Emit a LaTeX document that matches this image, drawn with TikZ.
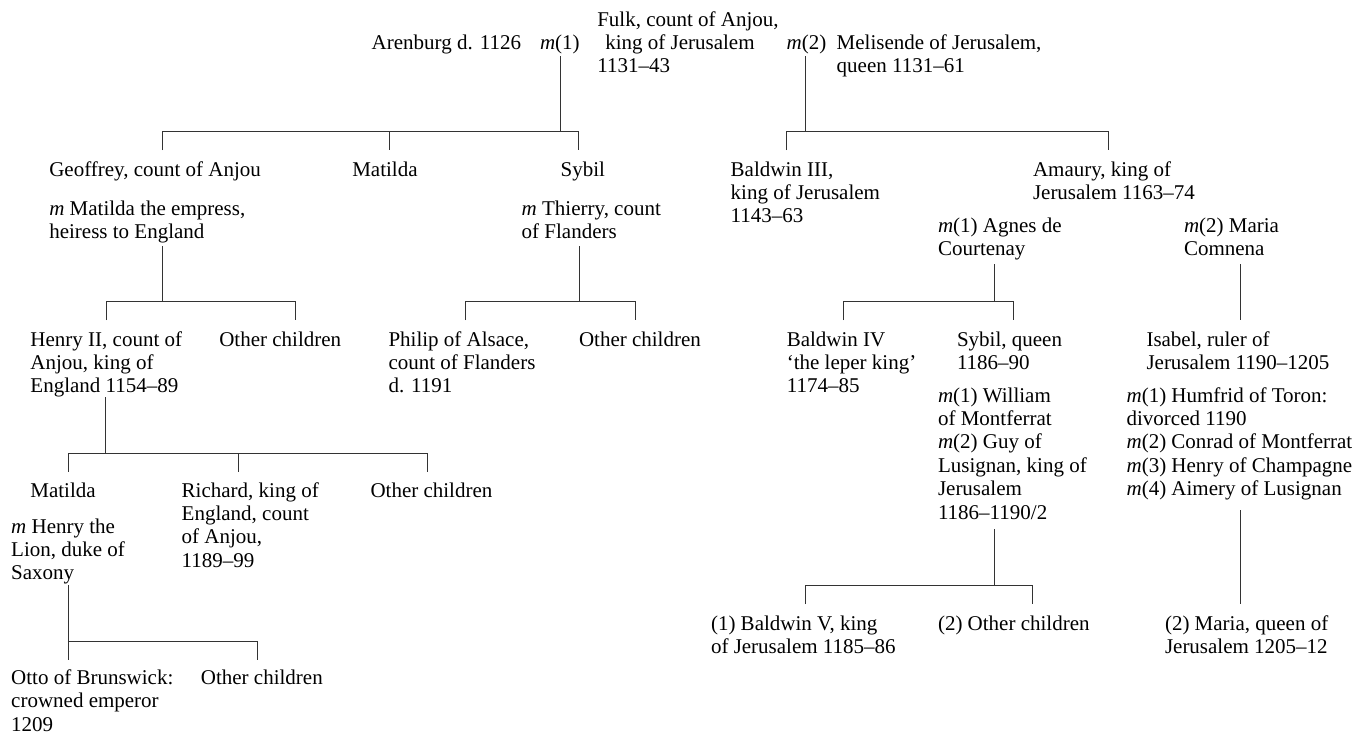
\documentclass[tikz,border=0pt]{standalone}
\usepackage{fontspec}
\setmainfont{Liberation Serif}
\newcommand\famfont{\fontsize{21}{23.4}\selectfont}
\newcommand\nl{\cr}
\newcommand\lns[1]{\vtop{\halign{##\hfil\cr#1\crcr}}}
\newcommand\mm{\textit{m}}
\tikzset{
  person/.style={anchor=base west, inner sep=0pt, outer sep=0pt, font=\famfont, text=black},
  line/.style={draw=black!80, line width=0.8pt},
}
\begin{document}
\begin{tikzpicture}[x=1pt,y=-1pt]
\fill[white] (0,0) rectangle (1358,734);
\useasboundingbox (0,0) rectangle (1358,734);

% generation 0
\node[person] (arenburg) at (371.7,49) {Arenburg d. 1126};
\node[person] (m1) at (540,49) {\mm(1)};
\node[person] (fulk) at (597.3,26) {\lns{Fulk, count of Anjou,\nl\hspace*{8pt}king of Jerusalem\nl 1131–43}};
\node[person] (m2) at (786.7,49) {\mm(2)};
\node[person] (melisende) at (836.7,49) {\lns{Melisende of Jerusalem,\nl queen 1131–61}};

% generation 1
\node[person] (geoffrey) at (49.3,176) {Geoffrey, count of Anjou};
\node[person] (matildaA) at (352.3,176) {Matilda};
\node[person] (sybilA) at (560.7,176) {Sybil};
\node[person] (baldwinIII) at (730.7,176) {\lns{Baldwin III,\nl king of Jerusalem\nl 1143–63}};
\node[person] (amaury) at (1033,176) {\lns{Amaury, king of\nl Jerusalem 1163–74}};

\node[person] (mgeoff) at (49.3,215) {\lns{\mm\ Matilda the empress,\nl heiress to England}};
\node[person] (mthierry) at (521.7,215) {\lns{\mm\ Thierry, count\nl of Flanders}};
\node[person] (magnes) at (938,232) {\lns{\mm(1) Agnes de\nl Courtenay}};
\node[person] (mmaria) at (1184,232) {\lns{\mm(2) Maria\nl Comnena}};

% generation 2
\node[person] (henryII) at (30.5,346) {\lns{Henry II, count of\nl Anjou, king of\nl England 1154–89}};
\node[person] (otherA) at (219.3,346) {Other children};
\node[person] (philip) at (388.5,346) {\lns{Philip of Alsace,\nl count of Flanders\nl d. 1191}};
\node[person] (otherB) at (579,346) {Other children};
\node[person] (baldwinIV) at (786.8,346) {\lns{Baldwin IV\nl ‘the leper king’\nl 1174–85}};
\node[person] (sybilQ) at (957,346) {\lns{Sybil, queen\nl 1186–90}};
\node[person] (isabel) at (1146.5,346) {\lns{Isabel, ruler of\nl Jerusalem 1190–1205}};

\node[person] (msybil) at (938,402) {\lns{\mm(1) William\nl of Montferrat\nl \mm(2) Guy of\nl Lusignan, king of\nl Jerusalem\nl 1186–1190/2}};
\node[person] (misabel) at (1126.6,402) {\lns{\mm(1) Humfrid of Toron:\nl divorced 1190\nl \mm(2) Conrad of Montferrat\nl \mm(3) Henry of Champagne\nl \mm(4) Aimery of Lusignan}};

% generation 3
\node[person] (matildaB) at (30.4,497) {Matilda};
\node[person] (richard) at (181.7,497) {\lns{Richard, king of\nl England, count\nl of Anjou,\nl 1189–99}};
\node[person] (otherC) at (370.5,497) {Other children};
\node[person] (mhenry) at (11.2,533) {\lns{\mm\ Henry the\nl Lion, duke of\nl Saxony}};

\node[person] (baldwinV) at (711,630) {\lns{(1) Baldwin V, king\nl of Jerusalem 1185–86}};
\node[person] (otherE) at (938,630) {(2) Other children};
\node[person] (mariaQ) at (1165,630) {\lns{(2) Maria, queen of\nl Jerusalem 1205–12}};

% generation 4
\node[person] (otto) at (11.2,684.3) {\lns{Otto of Brunswick:\nl crowned emperor\nl 1209}};
\node[person] (otherD) at (200.9,684.3) {Other children};

% ---------- connectors ----------
% Fulk m(1)
\coordinate (a1) at (560,56);   \coordinate (a2) at (560,131.5);
\coordinate (a3) at (162.7,150); \coordinate (a4) at (162.7,131.5);
\coordinate (a5) at (578.3,131.5); \coordinate (a6) at (578.3,150);
\coordinate (a7) at (389.3,131.5); \coordinate (a8) at (389.3,150);
\draw[line] (a1) -- (a2);
\draw[line] (a3) -- (a4) -- (a5) -- (a6);
\draw[line] (a7) -- (a8);
% Fulk m(2)
\coordinate (b1) at (805.7,56);  \coordinate (b2) at (805.7,131.5);
\coordinate (b3) at (786.7,150); \coordinate (b4) at (786.7,131.5);
\coordinate (b5) at (1108,131.5); \coordinate (b6) at (1108,150);
\draw[line] (b1) -- (b2);
\draw[line] (b3) -- (b4) -- (b5) -- (b6);
% Geoffrey
\coordinate (c1) at (162.7,246); \coordinate (c2) at (162.7,301.7);
\coordinate (c3) at (106,320); \coordinate (c4) at (106,301.7);
\coordinate (c5) at (295,301.7); \coordinate (c6) at (295,320);
\draw[line] (c1) -- (c2);
\draw[line] (c3) -- (c4) -- (c5) -- (c6);
% Thierry
\coordinate (d1) at (579,246); \coordinate (d2) at (579,301.7);
\coordinate (d3) at (465.6,320); \coordinate (d4) at (465.6,301.7);
\coordinate (d5) at (635,301.7); \coordinate (d6) at (635,320);
\draw[line] (d1) -- (d2);
\draw[line] (d3) -- (d4) -- (d5) -- (d6);
% Agnes
\coordinate (e1) at (994.4,264); \coordinate (e2) at (994.4,301.7);
\coordinate (e3) at (843.4,320); \coordinate (e4) at (843.4,301.7);
\coordinate (e5) at (1013.3,301.7); \coordinate (e6) at (1013.3,320);
\draw[line] (e1) -- (e2);
\draw[line] (e3) -- (e4) -- (e5) -- (e6);
% Maria Comnena
\coordinate (f1) at (1240.3,264); \coordinate (f2) at (1240.3,320);
\draw[line] (f1) -- (f2);
% Henry II
\coordinate (g1) at (105.8,397); \coordinate (g2) at (105.8,453.3);
\coordinate (g3) at (67.9,471.7); \coordinate (g4) at (67.9,453.3);
\coordinate (g5) at (427.2,453.3); \coordinate (g6) at (427.2,471.7);
\coordinate (g7) at (238,453.3); \coordinate (g8) at (238,471.7);
\draw[line] (g1) -- (g2);
\draw[line] (g3) -- (g4) -- (g5) -- (g6);
\draw[line] (g7) -- (g8);
% Henry the Lion
\coordinate (h1) at (67.9,585); \coordinate (h2) at (67.9,660);
\coordinate (h3) at (67.9,641.7); \coordinate (h4) at (257.6,641.7); \coordinate (h5) at (257.6,660);
\draw[line] (h1) -- (h2);
\draw[line] (h3) -- (h4) -- (h5);
% Sybil queen
\coordinate (i1) at (994.3,529); \coordinate (i2) at (994.3,585);
\coordinate (i3) at (805.4,604); \coordinate (i4) at (805.4,585);
\coordinate (i5) at (1032.4,585); \coordinate (i6) at (1032.4,604);
\draw[line] (i1) -- (i2);
\draw[line] (i3) -- (i4) -- (i5) -- (i6);
% Isabel
\coordinate (j1) at (1240.3,510); \coordinate (j2) at (1240.3,604);
\draw[line] (j1) -- (j2);
\end{tikzpicture}
\end{document}
